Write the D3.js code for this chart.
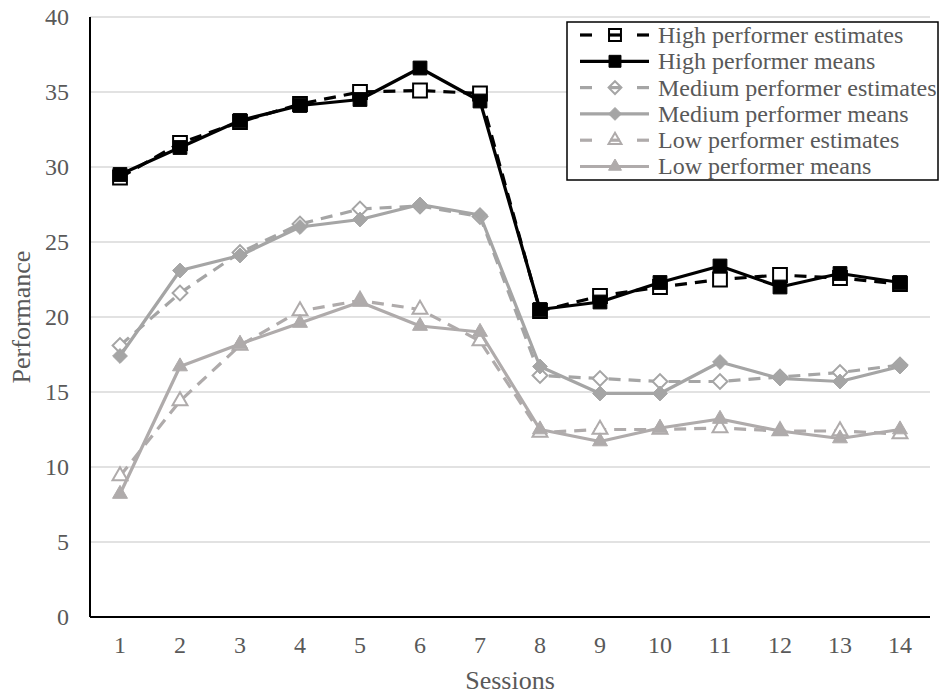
<!DOCTYPE html>
<html>
<head>
<meta charset="utf-8">
<script src="https://cdn.jsdelivr.net/npm/d3@7"></script>
<style>
  body { margin: 0; background: #fff; }
</style>
</head>
<body>
<div id="chart"></div>
<script>
// chart data
const sessions = [1, 2, 3, 4, 5, 6, 7, 8, 9, 10, 11, 12, 13, 14];
const yTicks = [0, 5, 10, 15, 20, 25, 30, 35, 40];

const highEstimates = [29.3, 31.6, 33.0, 34.2, 35.0, 35.1, 34.9, 20.4, 21.4, 22.0, 22.5, 22.8, 22.6, 22.2];
const highMeans     = [29.5, 31.3, 33.1, 34.1, 34.5, 36.6, 34.4, 20.5, 21.0, 22.3, 23.4, 22.0, 22.9, 22.3];
const medEstimates  = [18.1, 21.6, 24.3, 26.2, 27.2, 27.4, 26.7, 16.1, 15.9, 15.7, 15.7, 16.0, 16.3, 16.8];
const medMeans      = [17.4, 23.1, 24.1, 26.0, 26.5, 27.5, 26.8, 16.7, 14.9, 14.9, 17.0, 15.9, 15.7, 16.7];
const lowEstimates  = [9.4, 14.4, 18.1, 20.4, 21.1, 20.5, 18.4, 12.3, 12.5, 12.5, 12.6, 12.4, 12.4, 12.2];
const lowMeans      = [8.2, 16.7, 18.2, 19.6, 21.0, 19.4, 19.0, 12.5, 11.7, 12.6, 13.2, 12.4, 11.9, 12.5];

const series = [
  { name: "High performer estimates",   values: highEstimates, color: "#000000", dashed: true,  shape: "square",   filled: false },
  { name: "High performer means",       values: highMeans,     color: "#000000", dashed: false, shape: "square",   filled: true },
  { name: "Medium performer estimates", values: medEstimates,  color: "#a5a5a5", dashed: true,  shape: "diamond",  filled: false },
  { name: "Medium performer means",     values: medMeans,      color: "#a5a5a5", dashed: false, shape: "diamond",  filled: true },
  { name: "Low performer estimates",    values: lowEstimates,  color: "#afabab", dashed: true,  shape: "triangle", filled: false },
  { name: "Low performer means",        values: lowMeans,      color: "#afabab", dashed: false, shape: "triangle", filled: true }
];

const FONT = "'Times New Roman', 'Liberation Serif', Times, serif";
const W = 941, H = 697;
const margin = { top: 17, right: 11, bottom: 80, left: 90 };
const width = W - margin.left - margin.right;
const height = H - margin.top - margin.bottom;

const svg = d3.select("#chart").append("svg")
  .attr("width", W).attr("height", H)
  .attr("font-family", FONT);

const g = svg.append("g")
  .attr("transform", "translate(" + margin.left + "," + margin.top + ")");

const x = d3.scalePoint()
  .domain(sessions)
  .range([0, width])
  .padding(0.5);

const y = d3.scaleLinear()
  .domain([0, 40])
  .range([height, 0]);

// gridlines
g.selectAll(".grid")
  .data(yTicks.filter(d => d > 0))
  .enter().append("line")
  .attr("x1", 0).attr("x2", width)
  .attr("y1", d => y(d)).attr("y2", d => y(d))
  .attr("stroke", "#d9d9d9")
  .attr("stroke-width", 1.3);

// y tick labels
g.selectAll(".ylab")
  .data(yTicks)
  .enter().append("text")
  .attr("x", -21)
  .attr("y", d => y(d))
  .attr("dy", "0.33em")
  .attr("text-anchor", "end")
  .attr("fill", "#595959")
  .attr("font-family", FONT)
  .style("font-size", "24px")
  .text(d => d);

// x tick labels
g.selectAll(".xlab")
  .data(sessions)
  .enter().append("text")
  .attr("x", d => x(d))
  .attr("y", height + 36)
  .attr("text-anchor", "middle")
  .attr("fill", "#595959")
  .attr("font-family", FONT)
  .style("font-size", "24px")
  .text(d => d);

// axes lines
g.append("line")
  .attr("x1", 0).attr("x2", 0)
  .attr("y1", 0).attr("y2", height)
  .attr("stroke", "#000").attr("stroke-width", 2);
g.append("line")
  .attr("x1", 0).attr("x2", width)
  .attr("y1", height).attr("y2", height)
  .attr("stroke", "#000").attr("stroke-width", 2);

// axis titles
svg.append("text")
  .attr("transform", "translate(30," + (margin.top + height / 2) + ") rotate(-90)")
  .attr("text-anchor", "middle")
  .attr("fill", "#595959")
  .attr("font-family", FONT)
  .style("font-size", "26px")
  .text("Performance");

svg.append("text")
  .attr("x", margin.left + width / 2)
  .attr("y", 689)
  .attr("text-anchor", "middle")
  .attr("fill", "#595959")
  .attr("font-family", FONT)
  .style("font-size", "26px")
  .text("Sessions");

function symbolFor(s, k) {
  if (s.shape === "square") return d3.symbol().type(d3.symbolSquare).size(190 * k);
  if (s.shape === "diamond") return d3.symbol().type(d3.symbolDiamond2).size(140 * k);
  return d3.symbol().type(d3.symbolTriangle2).size(160 * k);
}

function drawMarker(sel, s, fillHollow, k) {
  sel.attr("d", symbolFor(s, k)())
    .attr("fill", s.filled ? s.color : fillHollow)
    .attr("stroke", s.color)
    .attr("stroke-width", s.filled ? 1 : 2);
}

const line = d3.line()
  .x((d, i) => x(sessions[i]))
  .y(d => y(d));

// draw the estimates first so means sit on top
const order = [0, 2, 4, 5, 3, 1];
order.forEach(idx => {
  const s = series[idx];
  g.append("path")
    .datum(s.values)
    .attr("d", line)
    .attr("fill", "none")
    .attr("stroke", s.color)
    .attr("stroke-width", 3.2)
    .attr("stroke-linejoin", "round")
    .attr("stroke-dasharray", s.dashed ? "12,8" : null);

  g.selectAll(null)
    .data(s.values)
    .enter().append("path")
    .attr("transform", (d, i) => "translate(" + x(sessions[i]) + "," + y(d) + ")")
    .call(sel => drawMarker(sel, s, "#fff", 1));
});

// legend
const lg = svg.append("g").attr("transform", "translate(567,22)");
lg.append("rect")
  .attr("width", 371).attr("height", 158)
  .attr("fill", "#fff")
  .attr("stroke", "#000").attr("stroke-width", 1.5);

series.forEach((s, i) => {
  const row = lg.append("g").attr("transform", "translate(0," + (13 + i * 26.3) + ")");
  const segs = s.dashed ? [[13, 25], [43, 53], [70, 82]] : [[13, 82]];
  segs.forEach(p => {
    row.append("line").attr("x1", p[0]).attr("x2", p[1]).attr("y1", 0).attr("y2", 0)
      .attr("stroke", s.color).attr("stroke-width", 3.2);
  });
  row.append("path")
    .attr("transform", "translate(48,0)")
    .call(sel => drawMarker(sel, s, "none", 0.75));
  row.append("text")
    .attr("x", 91)
    .attr("y", 0)
    .attr("dy", "0.33em")
    .attr("fill", "#595959")
    .attr("font-family", FONT)
    .style("font-size", "24px")
    .text(s.name);
});
</script>
</body>
</html>
